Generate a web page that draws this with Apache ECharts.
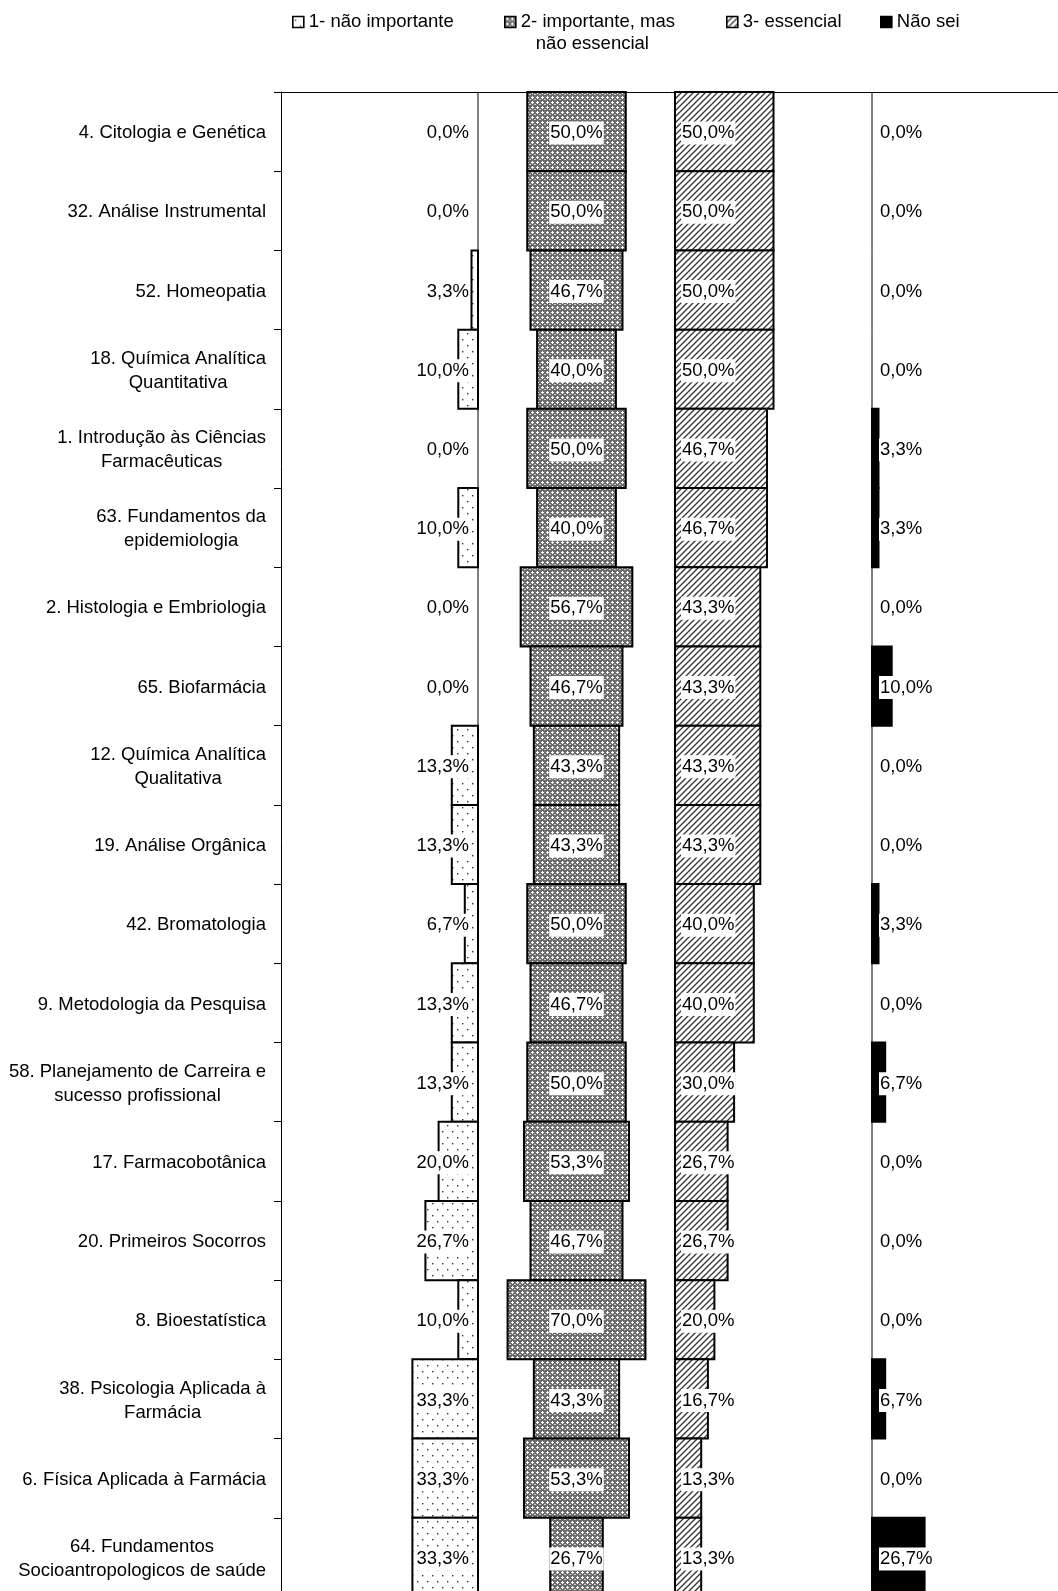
<!DOCTYPE html>
<html>
<head>
<meta charset="utf-8">
<script src="https://cdn.jsdelivr.net/npm/echarts@6/dist/echarts.min.js"></script>
<style>
  html, body { margin: 0; padding: 0; background: #fff; }
  #chart { width: 1058px; height: 1591px; }
</style>
</head>
<body>
<div id="chart"></div>
<script>
// Disciplines, top to bottom
const categories = [
  '4. Citologia e Genética',
  '32. Análise Instrumental',
  '52. Homeopatia',
  '18. Química Analítica\nQuantitativa',
  '1. Introdução às Ciências\nFarmacêuticas',
  '63. Fundamentos da\nepidemiologia',
  '2. Histologia e Embriologia',
  '65. Biofarmácia',
  '12. Química Analítica\nQualitativa',
  '19. Análise Orgânica',
  '42. Bromatologia',
  '9. Metodologia da Pesquisa',
  '58. Planejamento de Carreira e\nsucesso profissional',
  '17. Farmacobotânica',
  '20. Primeiros Socorros',
  '8. Bioestatística',
  '38. Psicologia Aplicada à\nFarmácia',
  '6. Física Aplicada à Farmácia',
  '64. Fundamentos\nSocioantropologicos de saúde'
];

// Share of answers (%) per rating
const naoImportante = [0, 0, 3.3, 10, 0, 10, 0, 0, 13.3, 13.3, 6.7, 13.3, 13.3, 20, 26.7, 10, 33.3, 33.3, 33.3];
const importante    = [50, 50, 46.7, 40, 50, 40, 56.7, 46.7, 43.3, 43.3, 50, 46.7, 50, 53.3, 46.7, 70, 43.3, 53.3, 26.7];
const essencial     = [50, 50, 50, 50, 46.7, 46.7, 43.3, 43.3, 43.3, 43.3, 40, 40, 30, 26.7, 26.7, 20, 16.7, 13.3, 13.3];
const naoSei        = [0, 0, 0, 0, 3.3, 3.3, 0, 10, 0, 0, 3.3, 0, 6.7, 0, 0, 0, 6.7, 0, 26.7];

const seriesNames = ['1- não importante', '2- importante, mas não essencial', '3- essencial', 'Não sei'];

const FONT_FAMILY = '"Liberation Sans", Arial, sans-serif';
const FONT_SIZE = 18.5;

// ---- fill patterns ----
function makeTile(w, h, draw) {
  const c = document.createElement('canvas');
  c.width = w; c.height = h;
  const ctx = c.getContext('2d');
  draw(ctx, w, h);
  return { image: c, repeat: 'repeat' };
}
const dotsFill = makeTile(10, 12, (ctx, w, h) => {
  ctx.fillStyle = '#fff'; ctx.fillRect(0, 0, w, h);
  ctx.fillStyle = '#333';
  ctx.fillRect(2, 3, 1.4, 1.4);
  ctx.fillRect(7, 9, 1.4, 1.4);
});
const meshFill = makeTile(5, 5, (ctx, w, h) => {
  ctx.fillStyle = '#6c6c6c'; ctx.fillRect(0, 0, w, h);
  ctx.fillStyle = '#fff';
  ctx.fillRect(1, 2, 3, 1);
  ctx.fillRect(2, 1, 1, 3);
  ctx.fillStyle = '#d0d0d0';
  ctx.fillRect(4, 4, 1, 1);
  ctx.fillRect(0, 4, 1, 1);
});
const hatchFill = makeTile(6, 6, (ctx, w, h) => {
  ctx.fillStyle = '#fff'; ctx.fillRect(0, 0, w, h);
  ctx.strokeStyle = '#333'; ctx.lineWidth = 1.3;
  ctx.beginPath();
  ctx.moveTo(0, 6); ctx.lineTo(6, 0);
  ctx.moveTo(-1, 1); ctx.lineTo(1, -1);
  ctx.moveTo(5, 7); ctx.lineTo(7, 5);
  ctx.stroke();
});
const solidFill = '#000';

const fmt = v => v.toFixed(1).replace('.', ',') + '%';

// Each rating occupies a 100-unit slot on the shared value axis
const panels = [
  { name: seriesNames[0], values: naoImportante, fill: dotsFill,
    span: v => [100 - v, 100], labelAt: 100, dx: -8, align: 'right', axisAt: 100 },
  { name: seriesNames[1], values: importante, fill: meshFill,
    span: v => [150 - v / 2, 150 + v / 2], labelAt: 150, dx: 0, align: 'center' },
  { name: seriesNames[2], values: essencial, fill: hatchFill,
    span: v => [200, 200 + v], labelAt: 200, dx: 6, align: 'left' },
  { name: seriesNames[3], values: naoSei, fill: solidFill,
    span: v => [300, 300 + v], labelAt: 300, dx: 7, align: 'left', axisAt: 300 }
];

function renderPanel(cfg) {
  return function (params, api) {
    const v = api.value(0);
    const cat = api.value(1);
    const span = cfg.span(v);
    const pA = api.coord([span[0], cat]);
    const pB = api.coord([span[1], cat]);
    const h = api.size([0, 1])[1];
    const yc = pA[1];
    const children = [];
    if (cfg.axisAt != null) {
      const px = api.coord([cfg.axisAt, cat])[0];
      children.push({
        type: 'line',
        shape: { x1: px, y1: yc - h / 2, x2: px, y2: yc + h / 2 },
        style: { stroke: '#000', lineWidth: 1 }
      });
    }
    if (v > 0) {
      children.push({
        type: 'rect',
        shape: { x: pA[0], y: yc - h / 2, width: pB[0] - pA[0], height: h },
        style: { fill: cfg.fill, stroke: '#000', lineWidth: 2 }
      });
    }
    const lx = api.coord([cfg.labelAt, cat])[0] + cfg.dx;
    children.push({
      type: 'text',
      z2: 10,
      style: {
        text: fmt(v), x: lx, y: yc + 1.5,
        align: cfg.align, verticalAlign: 'middle',
        fill: '#000',
        font: FONT_SIZE + 'px ' + FONT_FAMILY,
        backgroundColor: '#fff', padding: [2, 1]
      }
    });
    return { type: 'group', children };
  };
}

const series = panels.map(cfg => ({
  name: cfg.name,
  type: 'custom',
  coordinateSystem: 'cartesian2d',
  itemStyle: { color: cfg.fill },
  encode: { x: 0, y: 1 },
  data: cfg.values.map((v, i) => [v, i]),
  renderItem: renderPanel(cfg),
  silent: true
}));

const legendText = {
  fontFamily: FONT_FAMILY, fontSize: FONT_SIZE, color: '#000', lineHeight: 22
};
function legendFor(idx, left, top, extra) {
  return Object.assign({
    show: true,
    left: left, top: top,
    padding: 0,
    icon: 'rect',
    itemWidth: 11, itemHeight: 11,
    selectedMode: false,
    data: [{
      name: seriesNames[idx],
      itemStyle: { color: panels[idx].fill, borderColor: '#000', borderWidth: 1.6 }
    }],
    textStyle: legendText
  }, extra || {});
}

const option = {
  animation: false,
  backgroundColor: '#fff',
  textStyle: { fontFamily: FONT_FAMILY },
  legend: [
    legendFor(0, 292, 11),
    legendFor(1, 504, -11, {
      formatter: () => '{a|2- importante, mas}\n{b|não essencial}',
      textStyle: Object.assign({}, legendText, {
        padding: [22, 0, 0, 0],
        rich: {
          a: { fontFamily: FONT_FAMILY, fontSize: FONT_SIZE, lineHeight: 22, color: '#000' },
          b: { fontFamily: FONT_FAMILY, fontSize: FONT_SIZE, lineHeight: 22, color: '#000', padding: [0, 0, 0, 15] }
        }
      })
    }),
    legendFor(2, 726, 11),
    legendFor(3, 880, 11)
  ],
  grid: {
    left: 281, top: 92, width: 788, height: 1505,
    containLabel: false,
    outerBoundsMode: 'none'
  },
  xAxis: {
    type: 'value',
    position: 'top',
    min: 0, max: 400, interval: 100,
    axisLine: { show: true, onZero: false, lineStyle: { color: '#000', width: 1 } },
    axisTick: { show: false },
    axisLabel: { show: false },
    splitLine: { show: false }
  },
  yAxis: {
    type: 'category',
    inverse: true,
    data: categories,
    axisLine: { show: true, lineStyle: { color: '#000', width: 1 } },
    axisTick: { show: true, inside: false, length: 7, lineStyle: { color: '#000', width: 1 } },
    splitLine: { show: false },
    axisLabel: {
      interval: 0,
      margin: 15,
      align: 'right',
      color: '#000',
      fontFamily: FONT_FAMILY,
      fontSize: FONT_SIZE,
      lineHeight: 24,
      padding: [3, 0, 0, 0],
      formatter: val => val.split('\n').map(s => '{c|' + s + '}').join('\n'),
      rich: {
        c: { align: 'center', fontFamily: FONT_FAMILY, fontSize: FONT_SIZE, lineHeight: 24, color: '#000' }
      }
    }
  },
  series: series
};

const chart = echarts.init(document.getElementById('chart'), null, { renderer: 'canvas' });
chart.setOption(option);
</script>
</body>
</html>
